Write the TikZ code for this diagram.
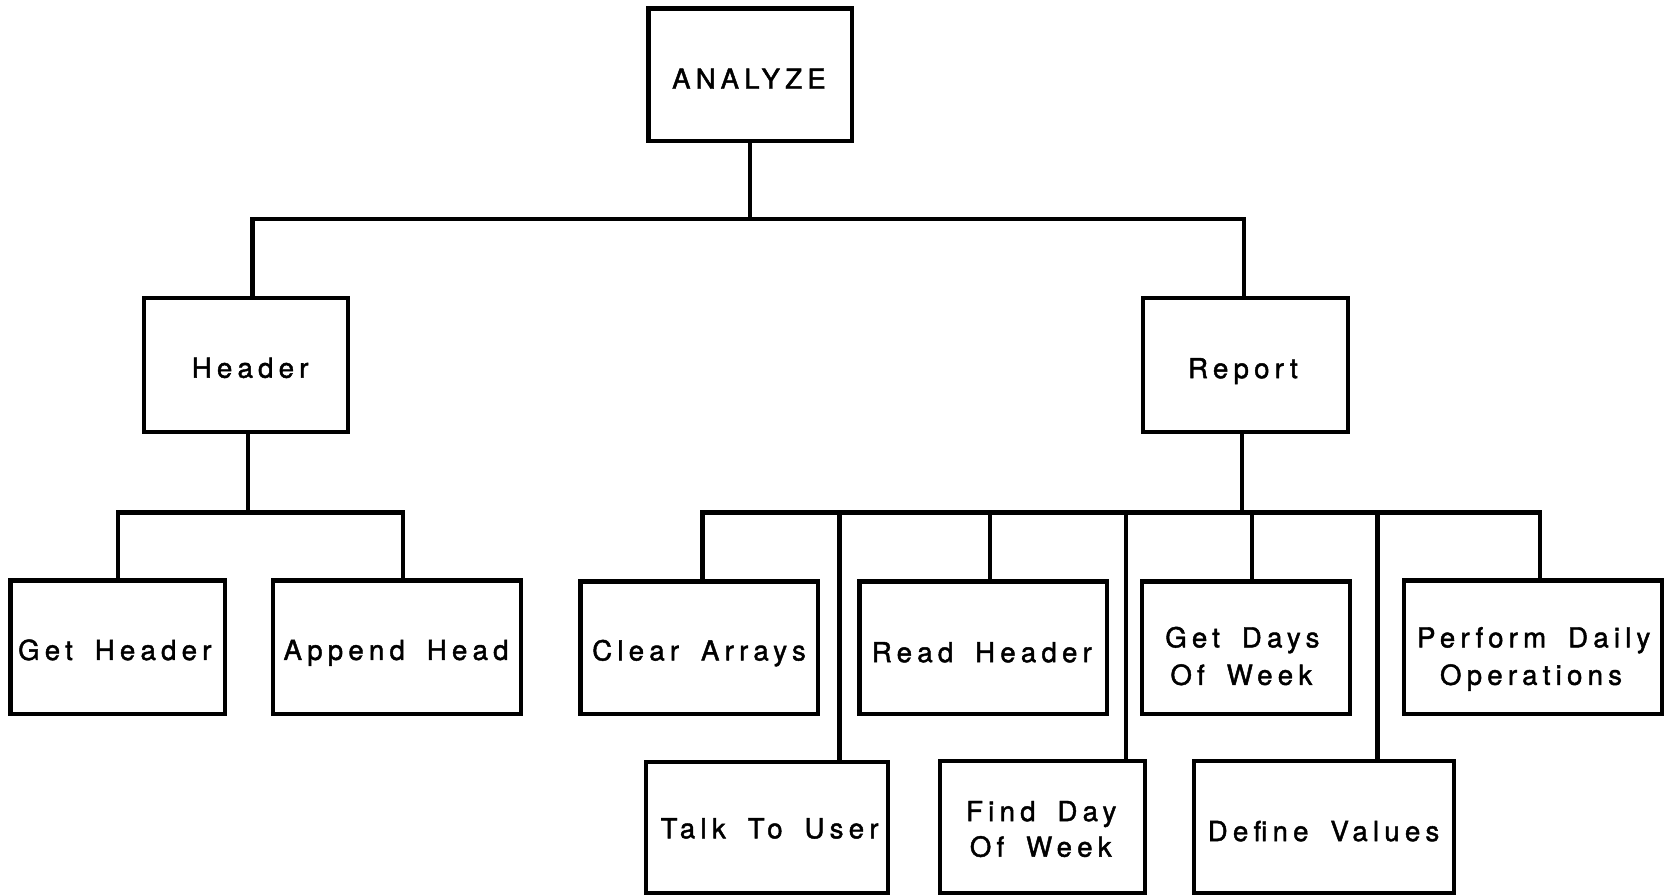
\documentclass[tikz,border=0pt]{standalone}
\usepackage{fontspec}
\setmainfont{TeX Gyre Heros}[LetterSpace=19, WordSpace=1.7, FakeBold=1.6]
\begin{document}
\begin{tikzpicture}[x=0.5pt, y=-0.5pt,
  box/.style={draw, line width=2pt, inner sep=0pt},
  txt/.style={inner sep=0pt, text height=9.3pt, text depth=0pt, xshift=-0.9pt,
    font=\fontsize{13}{17}\selectfont},
  link/.style={line width=2pt, line join=miter}]
\useasboundingbox (0,0) rectangle (1568,843);

% top level
\node[box, minimum width=96pt, minimum height=62.5pt] (analyze) at (707,70.5) {};
\node[txt] (analyze-t) at (707.5,74.3) {ANALYZE};

% second level
\node[box, minimum width=96pt, minimum height=63pt] (header) at (232,344) {};
\node[txt] (header-t) at (237.5,346.6) {Header};
\node[box, minimum width=96.5pt, minimum height=63pt] (report) at (1173.5,344) {};
\node[txt] (report-t) at (1173,347) {Report};

% children of Header
\node[box, minimum width=101pt, minimum height=63pt] (gethdr) at (111,610) {};
\node[txt] (gethdr-t) at (110,612.6) {Get Header};
\node[box, minimum width=117pt, minimum height=63pt] (append) at (374,610) {};
\node[txt] (append-t) at (375,612.5) {Append Head};

% children of Report, upper row
\node[box, minimum width=112pt, minimum height=62.5pt] (clear) at (659,610.5) {};
\node[txt] (clear-t) at (660.5,613) {Clear Arrays};
\node[box, minimum width=116.5pt, minimum height=62.5pt] (read) at (926.5,610.5) {};
\node[txt] (read-t) at (927,614.6) {Read Header};
\node[box, minimum width=98pt, minimum height=62.5pt] (getdays) at (1174,610.5) {};
\node[txt] (getdays-t1) at (1172.5,600.7) {Get Days};
\node[txt] (getdays-t2) at (1171.5,636) {Of Week};
\node[box, minimum width=121.75pt, minimum height=63pt] (perform) at (1444.75,610) {};
\node[txt] (perform-t1) at (1447,600.7) {Perform Daily};
\node[txt] (perform-t2) at (1444.5,636) {Operations};

% children of Report, lower row
\node[box, minimum width=114pt, minimum height=61.75pt] (talk) at (723,779.75) {};
\node[txt] (talk-t) at (727,780.6) {Talk To User};
\node[box, minimum width=96.5pt, minimum height=62.25pt] (findday) at (982.5,779.25) {};
\node[txt] (findday-t1) at (983,764.4) {Find Day};
\node[txt] (findday-t2) at (982.5,797.9) {Of Week};
\node[box, minimum width=122.5pt, minimum height=62.25pt] (define) at (1247.5,779.25) {};
\node[txt] (define-t) at (1249,783.2) {Define Values};

% junction points
\coordinate (tl) at (238,206);
\coordinate (tm) at (707,206);
\coordinate (tr) at (1172,206);

\coordinate (hl) at (111,483);
\coordinate (hm) at (234,483);
\coordinate (hr) at (380,483);

\coordinate (r1) at (662,483);
\coordinate (r2) at (791,483);
\coordinate (r3) at (933,483);
\coordinate (r4) at (1061,483);
\coordinate (rm) at (1170,483);
\coordinate (r5) at (1180,483);
\coordinate (r6) at (1298,483);
\coordinate (r7) at (1451,483);

% connectors
\draw[link] (analyze.south -| tm) -- (tm);
\draw[link] (header.north -| tl) -- (tl) -- (tr) -- (report.north -| tr);

\draw[link] (header.south -| hm) -- (hm);
\draw[link] (gethdr.north -| hl) -- (hl) -- (hr) -- (append.north -| hr);

\draw[link] (report.south -| rm) -- (rm);
\draw[link] (clear.north -| r1) -- (r1) -- (r7) -- (perform.north -| r7);
\draw[link] (r2) -- (talk.north -| r2);
\draw[link] (r3) -- (read.north -| r3);
\draw[link] (r4) -- (findday.north -| r4);
\draw[link] (r5) -- (getdays.north -| r5);
\draw[link] (r6) -- (define.north -| r6);
\end{tikzpicture}
\end{document}
